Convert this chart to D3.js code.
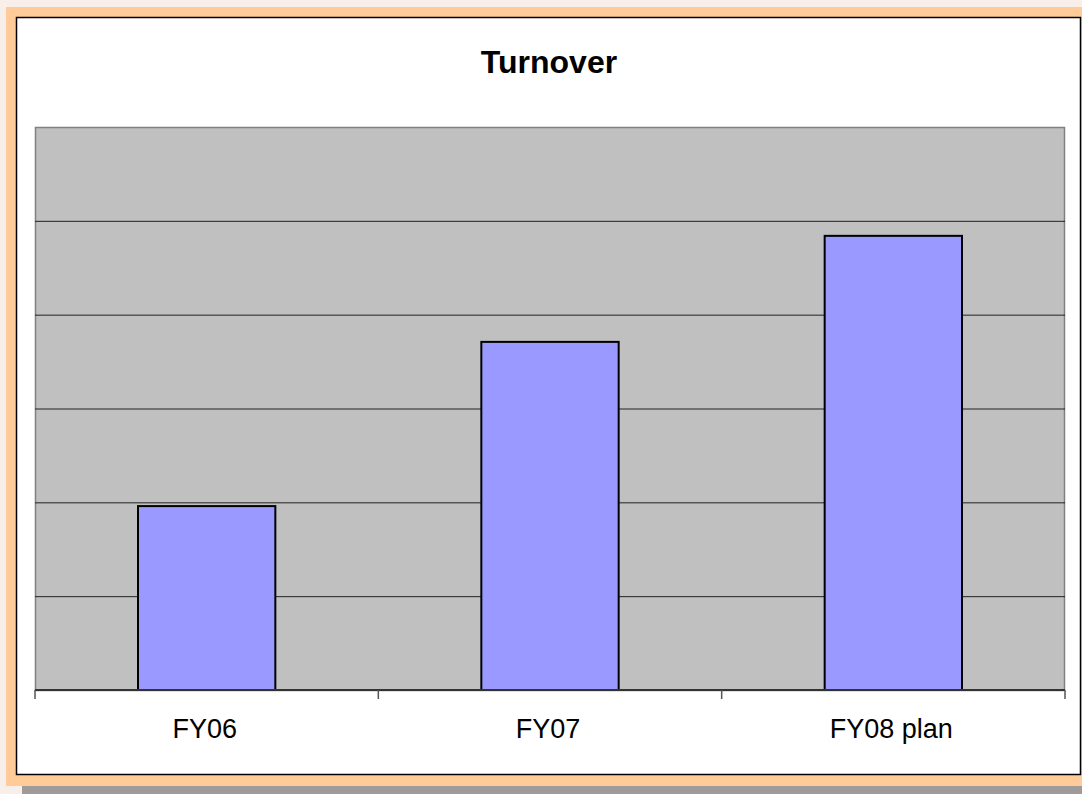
<!DOCTYPE html>
<html>
<head>
<meta charset="utf-8">
<script src="https://cdn.jsdelivr.net/npm/d3@7"></script>
<style>
html,body{margin:0;padding:0;background:#F8EFEA;}
svg{display:block;}
</style>
</head>
<body>
<svg id="c" width="1082" height="794"></svg>
<script>
const categories = ["FY06", "FY07", "FY08 plan"];
const values = [1.96, 3.71, 4.84];
const yTicks = [0, 1, 2, 3, 4, 5, 6];
const title = "Turnover";

const svg = d3.select("#c");
const W = 1082, H = 794;

// background frame
svg.append("rect").attr("x", 0).attr("y", 0).attr("width", W).attr("height", H).attr("fill", "#F8EFEA");
svg.append("rect").attr("x", 22).attr("y", 786).attr("width", W - 22).attr("height", 8).attr("fill", "#A09B9B");
svg.append("rect").attr("x", 6).attr("y", 7).attr("width", W - 6).attr("height", 779).attr("fill", "#FFCC99");
svg.append("rect").attr("x", 16.5).attr("y", 17.5).attr("width", 1064).attr("height", 757)
  .attr("fill", "#FFFFFF").attr("stroke", "#000").attr("stroke-width", 1.5);

const plot = {left: 35, top: 127, right: 1065, bottom: 690};

const x = d3.scaleBand().domain(categories).range([plot.left, plot.right]).paddingInner(0.6).paddingOuter(0.3);
const xCat = d3.scaleBand().domain(categories).range([plot.left, plot.right]).padding(0);
const y = d3.scaleLinear().domain([0, 6]).range([plot.bottom, plot.top]);

// plot area
svg.append("rect").attr("x", plot.left + 0.5).attr("y", plot.top + 0.5)
  .attr("width", plot.right - plot.left - 1).attr("height", plot.bottom - plot.top)
  .attr("fill", "#C0C0C0").attr("stroke", "#808080").attr("stroke-width", 1.5);

// gridlines
const grid = svg.append("g").attr("transform", `translate(${plot.left},0)`)
  .call(d3.axisLeft(y).tickValues(yTicks.slice(1, -1)).tickSize(-(plot.right - plot.left)).tickFormat(""));
grid.select(".domain").remove();
grid.selectAll("line").attr("stroke", "#222").attr("stroke-width", 1);

// bars
svg.append("g").selectAll("rect").data(values).join("rect")
  .attr("x", (d, i) => x(categories[i]))
  .attr("y", d => y(d))
  .attr("width", x.bandwidth())
  .attr("height", d => y(0) - y(d))
  .attr("fill", "#9999FF")
  .attr("stroke", "#000").attr("stroke-width", 2);

// x axis
const xa = svg.append("g").attr("transform", `translate(0,${plot.bottom})`)
  .call(d3.axisBottom(xCat).tickSize(0).tickFormat(""));
xa.select(".domain").remove();
svg.append("line").attr("x1", plot.left).attr("x2", plot.right).attr("y1", plot.bottom).attr("y2", plot.bottom)
  .attr("stroke", "#333").attr("stroke-width", 2);
const tickXs = categories.map(c => xCat(c)).concat([plot.right]);
svg.append("g").selectAll("line").data(tickXs).join("line")
  .attr("x1", d => d).attr("x2", d => d).attr("y1", plot.bottom).attr("y2", plot.bottom + 9)
  .attr("stroke", "#555").attr("stroke-width", 1.5);

svg.append("g").selectAll("text").data(categories).join("text")
  .attr("x", d => xCat(d) + xCat.bandwidth() / 2 - 2)
  .attr("y", 738)
  .attr("text-anchor", "middle")
  .attr("font-family", "Liberation Sans, Arial, sans-serif")
  .attr("font-size", 27)
  .attr("fill", "#000")
  .text(d => d);

svg.append("text").attr("x", 549).attr("y", 73).attr("text-anchor", "middle")
  .attr("font-family", "Liberation Sans, Arial, sans-serif").attr("font-weight", "bold")
  .attr("font-size", 32).attr("fill", "#000").text(title);
</script>
</body>
</html>
